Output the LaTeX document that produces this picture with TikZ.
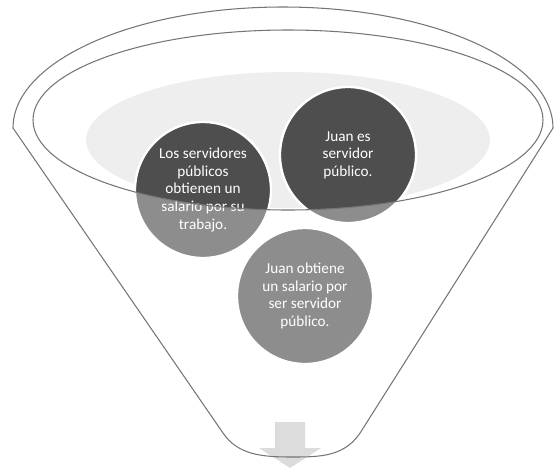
\documentclass[tikz,border=0pt]{standalone}
\usepackage{fontspec}
\setmainfont{Carlito}
\definecolor{circdark}{HTML}{4E4E4E}
\definecolor{rimgray}{HTML}{EEEEEE}
\definecolor{arrowgray}{HTML}{DCDCDC}
\definecolor{linegray}{HTML}{757575}
\tikzset{
  bubble/.style={shape=circle,fill=circdark,draw=white,line width=2pt,minimum size=4.08cm,
    inner sep=0pt,text=white,align=center,font=\fontsize{13}{15}\selectfont},
  funnelline/.style={draw=linegray,line width=0.9pt}
}
% outline of the funnel, in pixel units
\def\funnelpath{(223,433) -- (13,128) arc[start angle=180,end angle=360,x radius=270,y radius=121]
  -- (362,430) .. controls (346,457) and (320,457) .. (292,457) .. controls (262,457) and (238,455) .. (223,433) -- cycle}
\begin{document}
\begin{tikzpicture}[x=0.03cm,y=-0.03cm]
  \useasboundingbox (0,0) rectangle (556,468);

  \fill[rimgray] (288,140) ellipse[x radius=202,y radius=68];

  \node[bubble] (srv) at (203,190) {Los servidores\\públicos\\obtienen un\\salario por su\\trabajo.};
  \node[bubble] (juan) at (348,155) {Juan es\\servidor\\público.};
  \node[bubble] (salario) at (305,296) {Juan obtiene\\un salario por\\ser servidor\\público.};

  % front of the funnel over the bubbles
  \fill[white,fill opacity=0.36,even odd rule] \funnelpath (288,120) ellipse[x radius=255,y radius=90];

  \fill[arrowgray] (275,422) -- (305,422) -- (305,448) -- (321,448) -- (290,468)
    -- (259,448) -- (275,448) -- cycle;

  \draw[funnelline] \funnelpath;
  \draw[funnelline] (288,120) ellipse[x radius=255,y radius=90];
\end{tikzpicture}
\end{document}
